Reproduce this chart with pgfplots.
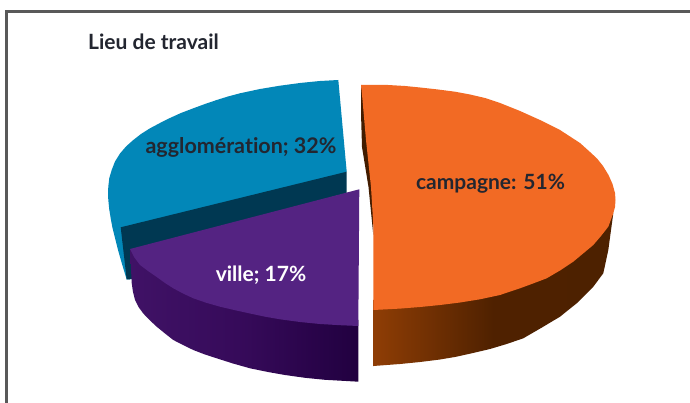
\documentclass[border=0pt]{standalone}
\usepackage{fontspec}
\setmainfont{Lato}[Ligatures=NoCommon]
\usepackage{pgfplots}
\pgfplotsset{compat=1.18}
\definecolor{txt}{RGB}{35,38,48}
\definecolor{orangetop}{RGB}{242,106,36}
\definecolor{bluetop}{RGB}{2,135,184}
\definecolor{bluedark}{RGB}{0,56,82}
\definecolor{purpletop}{RGB}{84,35,130}
\definecolor{brownsliver}{RGB}{66,28,0}
\pgfdeclarehorizontalshading{orangewall}{100bp}{
  rgb(0bp)=(0.56,0.24,0.02); rgb(25bp)=(0.56,0.24,0.02); rgb(50bp)=(0.31,0.13,0.0);
  rgb(75bp)=(0.30,0.13,0.0); rgb(100bp)=(0.30,0.13,0.0)}
\pgfdeclarehorizontalshading{purplewall}{100bp}{
  rgb(0bp)=(0.25,0.07,0.40); rgb(25bp)=(0.25,0.07,0.40); rgb(50bp)=(0.21,0.04,0.35);
  rgb(75bp)=(0.13,0.0,0.25); rgb(100bp)=(0.13,0.0,0.25)}
\begin{document}
\begin{tikzpicture}
\begin{axis}[
    scale only axis, width=690pt, height=403pt,
    xmin=0, xmax=690, ymin=0, ymax=403, y dir=reverse,
    hide axis, no marks, clip=true,
]
% keeps the whole canvas in the bounding box
\addplot[draw=none, fill=white] coordinates {(0,0) (690,0) (690,403) (0,403) (0,0)};
% frame
\addplot[draw=black!65, line width=2.2pt] coordinates {(6.5,403) (6.5,11.5) (690,11.5)};

% blue slice
\addplot[draw=none, fill=bluetop] coordinates {
  (338.3,80) (320,81) (300,83) (280,85.7) (260,89) (240,93.3) (228,96.5) (216.7,100) (205,104)
  (193.3,108.3) (181,113) (170,118) (160,123) (150,128.3) (141,134) (133.3,140) (126,146.5)
  (120,153.5) (115,161.5) (111.7,170) (109.3,178) (108.3,186.7) (108,193) (108.3,200) (109.2,209)
  (110.7,218.3) (112.5,228) (115,238) (118,250) (122,264) (126.7,279.5) (133,279) (133,250)
  (346.7,171.7) (338.3,80)};
\addplot[draw=none, fill=bluedark] coordinates {
  (346.7,171.7) (120.7,227.3) (126.7,279.5) (133,279) (133,250) (346.7,193) (346.7,171.7)};

% purple slice
\addplot[draw=none, shading=purplewall] coordinates {
  (130,249) (130.8,265) (131.7,283) (133,292) (135,300) (138.5,307) (143.3,313.5) (149.5,320)
  (156.7,326.7) (165,333.5) (173.3,340) (183,345) (193.3,350) (205,354.5) (216.7,358.3) (233,363.5)
  (250,368.3) (268,372) (285,375) (305,377.8) (325,379.8) (358.3,381.7) (358.3,320) (130,249)};
\addplot[draw=none, fill=purpletop] coordinates {
  (359.3,189.3) (130,249) (134,257) (140,265) (148,271) (156.7,277) (165,283) (173.3,288.3)
  (183,293.5) (193.3,298.3) (206,302.7) (220,306.7) (235,310.2) (250,313.5) (265,316.7) (280,319.3)
  (300,322) (320,324) (340,325.2) (358.3,326) (359.3,189.3)};

% orange slice
\addplot[draw=none, fill=brownsliver] coordinates {
  (361,85) (361,113) (362,147) (368.5,187) (373.3,235) (374,150) (361,85)};
\addplot[draw=none, shading=orangewall] coordinates {
  (373.3,300) (373.3,366) (400,364) (420,362) (440,359.5) (456,356.8) (473,353) (490,349) (506.7,344)
  (523.3,338.3) (543.3,326.7) (560,316.7) (576.7,303.3) (593.3,286.7) (603.3,273.3) (608.3,250)
  (611.7,225) (613.3,213.3) (500,240) (373.3,300)};
\addplot[draw=none, fill=orangetop] coordinates {
  (361,85) (388,85) (405,86) (422,87.7) (438,89.5) (455,91.7) (470,94.5) (485,98) (500,103) (520,111)
  (540,120) (560,130) (580,143) (590,152) (597,158.5) (603,166) (608.5,175) (612.5,184) (615,193)
  (615.5,200) (615,207) (613.3,213.3) (608.3,226.7) (601,236) (593.3,245) (573.3,261.7) (560,270.5) (546.7,278.3)
  (533,283.5) (520,288.3) (500,295) (480,299.3) (460,302.5) (440,305) (420,307) (400,308.6) (373.3,310)
  (373.3,225) (371,187) (366,140) (362.5,100) (361,85)};

\node[anchor=base west, font=\bfseries\fontsize{21}{21}\selectfont, text=txt, inner sep=0pt] at (axis cs:88,50) {Lieu de travail};
\node[anchor=base, font=\bfseries\fontsize{21.5}{21.5}\selectfont, text=txt, inner sep=0pt] at (axis cs:241,153.3) {agglomération; 32\%};
\node[anchor=base, font=\bfseries\fontsize{21}{21}\selectfont, text=white, inner sep=0pt] at (axis cs:261,281.7) {ville; 17\%};
\node[anchor=base, font=\bfseries\fontsize{21}{21}\selectfont, text=txt, inner sep=0pt] at (axis cs:490.5,190) {campagne: 51\%};
\end{axis}
\end{tikzpicture}
\end{document}
